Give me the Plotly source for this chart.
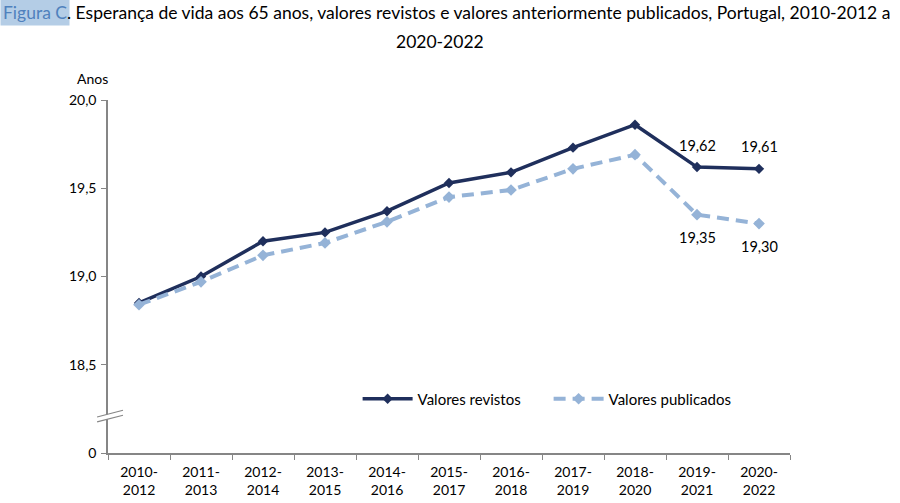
import plotly.graph_objects as go

# periodos trienais
periodos = ["2010-2012", "2011-2013", "2012-2014", "2013-2015", "2014-2016",
            "2015-2017", "2016-2018", "2017-2019", "2018-2020", "2019-2021",
            "2020-2022"]
revistos = [18.85, 19.00, 19.20, 19.25, 19.37, 19.53, 19.59, 19.73, 19.86, 19.62, 19.61]
publicados = [18.84, 18.97, 19.12, 19.19, 19.31, 19.45, 19.49, 19.61, 19.69, 19.35, 19.30]

# so os dois ultimos pontos levam rotulo
n_rotulos = 2

y_ticks = [18.0, 18.5, 19.0, 19.5, 20.0]
y_tick_labels = ["0", "18,5", "19,0", "19,5", "20,0"]

fonte = "Lato"
escuro = "rgb(31,47,92)"
claro = "rgb(149,179,215)"
cinza = "rgb(134,134,134)"

x_labels = [p.replace("-", "-<br>") for p in periodos]

fig = go.Figure()

fig.add_trace(go.Scatter(
    x=x_labels, y=revistos, name="Valores revistos",
    mode="lines+markers",
    line=dict(color=escuro, width=3.5),
    marker=dict(symbol="diamond", size=8, color=escuro),
    cliponaxis=False,
))

fig.add_trace(go.Scatter(
    x=x_labels, y=publicados, name="Valores publicados",
    mode="lines+markers",
    line=dict(color=claro, width=4, dash="12px,7px"),
    marker=dict(symbol="diamond", size=9, color=claro),
    cliponaxis=False,
))

def fmt(v):
    return f"{v:.2f}".replace(".", ",")

for xl, v in zip(x_labels[-n_rotulos:], revistos[-n_rotulos:]):
    fig.add_annotation(x=xl, y=v, text=fmt(v), showarrow=False, yshift=22,
                       font=dict(size=14.5))
for xl, v in zip(x_labels[-n_rotulos:], publicados[-n_rotulos:]):
    fig.add_annotation(x=xl, y=v, text=fmt(v), showarrow=False, yshift=-23,
                       font=dict(size=14.5))

fig.update_layout(
    width=900, height=503,
    margin=dict(l=108, r=110, t=100, b=50),
    paper_bgcolor="white", plot_bgcolor="white",
    font=dict(family=fonte, size=14, color="black"),
    showlegend=True,
    legend=dict(orientation="h", x=0.366, y=0.153, xanchor="left", yanchor="middle",
                font=dict(size=15), bgcolor="rgba(0,0,0,0)", itemwidth=50,
                entrywidth=126),
    xaxis=dict(
        range=[-0.5, 10.5], showline=True, linecolor=cinza, linewidth=1.5,
        ticks="outside", ticklen=5, tickcolor=cinza, tickson="boundaries",
        showgrid=False, zeroline=False, tickfont=dict(size=14),
        ticklabelstandoff=5, automargin=False,
    ),
    yaxis=dict(
        range=[18, 20], showline=True, linecolor=cinza, linewidth=1.5,
        ticks="outside", ticklen=5, tickcolor=cinza,
        tickvals=y_ticks, ticktext=y_tick_labels,
        showgrid=False, zeroline=False, tickfont=dict(size=14),
        ticklabelstandoff=2, automargin=False,
    ),
)

# quebra do eixo vertical
fig.add_shape(type="path", xref="paper", yref="paper",
              path="M -0.016 0.088 L 0.022 0.108 L 0.022 0.120 L -0.016 0.102 Z",
              fillcolor="white", line=dict(width=0), layer="above")
for y_ini in (0.088, 0.102):
    fig.add_shape(type="line", xref="paper", yref="paper",
                  x0=-0.016, y0=y_ini, x1=0.022, y1=y_ini + 0.019,
                  line=dict(color=cinza, width=1.2), layer="above")

# titulo
fig.add_annotation(text="Figura C", xref="paper", yref="paper",
                   x=-108 / 682, y=1.249, xanchor="left", yanchor="middle",
                   showarrow=False, bgcolor="rgb(180,205,230)", borderpad=2,
                   font=dict(size=17.5, color="rgb(79,129,189)"))
fig.add_annotation(text=". Esperança de vida aos 65 anos, valores revistos e valores anteriormente publicados, Portugal, 2010-2012 a",
                   xref="paper", yref="paper", x=-43 / 682, y=1.249,
                   xanchor="left", yanchor="middle", showarrow=False,
                   font=dict(size=17.5))
fig.add_annotation(text="2020-2022", xref="paper", yref="paper",
                   x=0.487, y=1.167, xanchor="center", yanchor="middle",
                   showarrow=False, font=dict(size=17.5))
fig.add_annotation(text="Anos", xref="paper", yref="paper",
                   x=-0.022, y=1.062, xanchor="center", yanchor="middle",
                   showarrow=False, font=dict(size=14))

# sem a margem do body a figura fica a 900x503 exactos
fig.write_html("out.html", config={"displayModeBar": False},
               post_script="document.body.style.margin='0';")
